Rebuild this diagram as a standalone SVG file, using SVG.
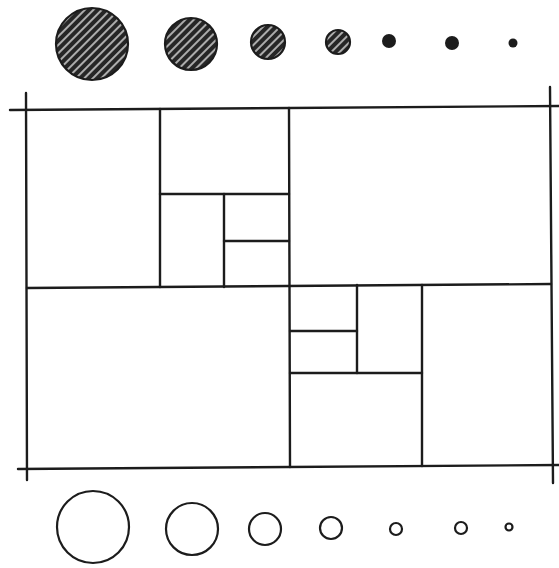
<svg xmlns="http://www.w3.org/2000/svg" width="559" height="568" viewBox="0 0 559 568">
<defs>
<pattern id="hatch" patternUnits="userSpaceOnUse" width="6" height="6" patternTransform="rotate(-45)">
<rect width="6" height="6" fill="#262626"/>
<line x1="0" y1="1" x2="6" y2="1" stroke="#e6e6e6" stroke-width="1.4"/>
</pattern>
<style>
.ln{stroke:#1c1c1c;stroke-width:2.4;fill:none;stroke-linecap:round}
.hc{fill:url(#hatch);stroke:#1c1c1c;stroke-width:2.2}
.dot{fill:#1c1c1c}
.oc{fill:none;stroke:#1c1c1c;stroke-width:2.2}
</style>
</defs>
<rect width="559" height="568" fill="#ffffff"/>
<g id="top-circles">
<circle class="hc" cx="92" cy="44" r="36"/>
<circle class="hc" cx="191" cy="44" r="26"/>
<circle class="hc" cx="268" cy="42" r="17"/>
<circle class="hc" cx="338" cy="42" r="12"/>
<circle class="dot" cx="389" cy="41" r="7"/>
<circle class="dot" cx="452" cy="43" r="7"/>
<circle class="dot" cx="513" cy="43" r="4.5"/>
</g>
<g id="grid">
<line class="ln" x1="10" y1="110" x2="559" y2="106"/>
<line class="ln" x1="26" y1="93" x2="27" y2="480"/>
<line class="ln" x1="550" y1="87" x2="553" y2="483"/>
<line class="ln" x1="18" y1="469" x2="559" y2="465"/>
<line class="ln" x1="27" y1="288" x2="551" y2="284"/>
<line class="ln" x1="160" y1="109" x2="160" y2="287"/>
<line class="ln" x1="289" y1="108" x2="290" y2="467"/>
<line class="ln" x1="160" y1="194" x2="289" y2="194"/>
<line class="ln" x1="224" y1="194" x2="224" y2="287"/>
<line class="ln" x1="224" y1="241" x2="289" y2="241"/>
<line class="ln" x1="357" y1="285" x2="357" y2="373"/>
<line class="ln" x1="290" y1="331" x2="357" y2="331"/>
<line class="ln" x1="290" y1="373" x2="422" y2="373"/>
<line class="ln" x1="422" y1="285" x2="422" y2="466"/>
</g>
<g id="bottom-circles">
<circle class="oc" cx="93" cy="527" r="36"/>
<circle class="oc" cx="192" cy="529" r="26"/>
<circle class="oc" cx="265" cy="529" r="16"/>
<circle class="oc" cx="331" cy="528" r="11"/>
<circle class="oc" cx="396" cy="529" r="6"/>
<circle class="oc" cx="461" cy="528" r="6"/>
<circle class="oc" cx="509" cy="527" r="3.5"/>
</g>
</svg>
